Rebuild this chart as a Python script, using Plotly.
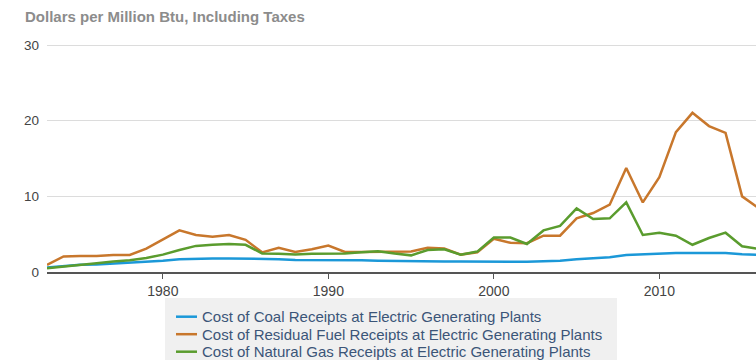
import plotly.graph_objects as go

years = list(range(1973, 2017))

coal = [0.6, 0.8, 0.95, 1.0, 1.1, 1.25, 1.35, 1.5, 1.7, 1.8, 1.8, 1.8, 1.8,
        1.75, 1.7, 1.6, 1.6, 1.6, 1.6, 1.55, 1.5, 1.5, 1.45, 1.4, 1.4, 1.38,
        1.35, 1.35, 1.35, 1.37, 1.4, 1.5, 1.7, 1.85, 1.95, 2.25, 2.35, 2.4,
        2.5, 2.5, 2.5, 2.5, 2.35, 2.25]

residual = [0.95, 2.05, 2.1, 2.1, 2.25, 2.25, 3.1, 4.3, 5.5, 4.9, 4.65, 4.9,
            4.25, 2.6, 3.2, 2.65, 3.0, 3.5, 2.65, 2.65, 2.65, 2.7, 2.7, 3.2,
            3.1, 2.3, 2.6, 4.4, 3.86, 3.8, 4.8, 4.8, 7.1, 7.8, 8.9, 13.75,
            9.2, 12.55, 18.5, 21.05, 19.3, 18.4, 10.0, 8.45]

natgas = [0.5, 0.7, 0.9, 1.15, 1.4, 1.55, 1.85, 2.3, 2.9, 3.45, 3.6, 3.7, 3.6,
          2.45, 2.4, 2.3, 2.4, 2.4, 2.45, 2.6, 2.75, 2.45, 2.2, 2.9, 3.0,
          2.3, 2.7, 4.55, 4.55, 3.7, 5.5, 6.1, 8.4, 7.0, 7.1, 9.2, 4.9, 5.2,
          4.8, 3.6, 4.5, 5.2, 3.4, 3.05]

names = ["Cost of Coal Receipts at Electric Generating Plants",
         "Cost of Residual Fuel Receipts at Electric Generating Plants",
         "Cost of Natural Gas Receipts at Electric Generating Plants"]
colors = ["#1b98d8", "#c8772c", "#5a9c2e"]
y_ticks = [0, 10, 20, 30]
x_ticks = [1980, 1990, 2000, 2010]
title = "Dollars per Million Btu, Including Taxes"

W, H = 756, 360
ML, MR, MT, MB = 47, 0, 44, 88
PW, PH = W - ML - MR, H - MT - MB


def px(x):  # pixel -> paper x
    return (x - ML) / PW


def py(y):  # pixel -> paper y
    return (H - MB - y) / PH


fig = go.Figure()
for name, vals, c in zip(names, [coal, residual, natgas], colors):
    fig.add_trace(go.Scatter(x=years, y=vals, name=name, mode="lines",
                             line=dict(color=c, width=2.5), showlegend=False))

# Manual legend (box partly cropped at the bottom like the reference)
shapes = [dict(type="rect", xref="paper", yref="paper",
               x0=px(165), x1=px(617), y0=py(298), y1=py(366),
               fillcolor="#f0f0f0", line=dict(width=0), layer="below")]
annotations = []
for i, (name, c) in enumerate(zip(names, colors)):
    cy = 316.7 + i * 17.5
    shapes.append(dict(type="line", xref="paper", yref="paper",
                       x0=px(176), x1=px(197), y0=py(cy), y1=py(cy),
                       line=dict(color=c, width=2.5)))
    annotations.append(dict(text=name, xref="paper", yref="paper",
                            x=px(200), y=py(cy), xanchor="left",
                            yanchor="middle", showarrow=False,
                            font=dict(size=15, color="#3b5578")))

annotations.append(dict(text="<b>" + title + "</b>", xref="paper",
                        yref="paper", x=px(23), y=py(17), xanchor="left",
                        yanchor="middle", showarrow=False,
                        font=dict(size=15, color="#8c8c8c")))

fig.update_layout(
    width=W, height=H,
    margin=dict(l=ML, r=MR, t=MT, b=MB),
    paper_bgcolor="white", plot_bgcolor="white",
    font=dict(family="Liberation Sans, Arial, sans-serif", size=12, color="#444"),
    showlegend=False,
    xaxis=dict(range=[1973, 2015.84], tickvals=x_ticks, showgrid=False,
               showline=True, linecolor="#555", linewidth=2,
               ticks="outside", ticklen=5, tickcolor="#555",
               tickfont=dict(size=14, color="#444"), zeroline=False),
    yaxis=dict(range=[0, 30.15], tickvals=y_ticks, showgrid=True,
               gridcolor="#dcdcdc", gridwidth=1, zeroline=False,
               showline=False, ticks="", ticklabelstandoff=7,
               tickfont=dict(size=13.5, color="#444")),
    shapes=shapes,
    annotations=annotations,
)

fig.write_html("out.html")
